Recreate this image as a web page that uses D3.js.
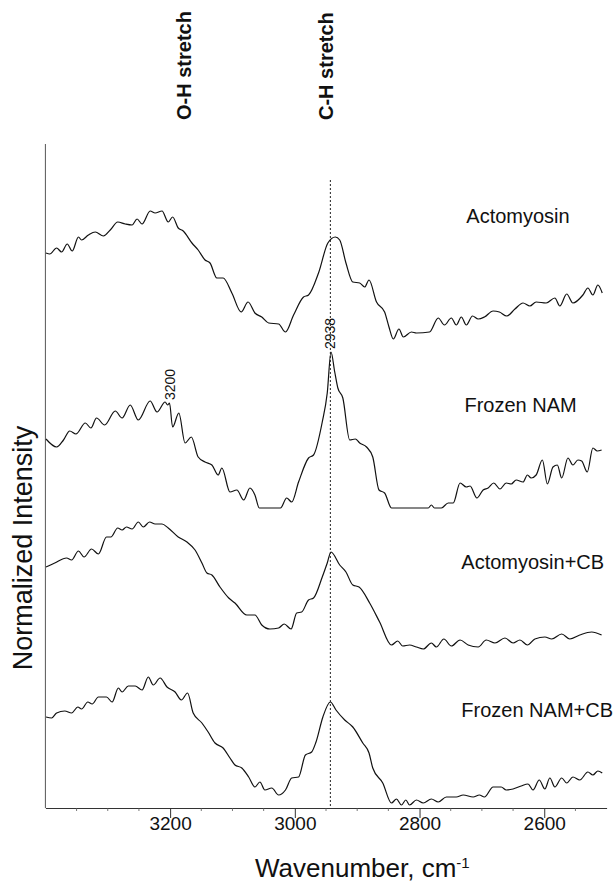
<!DOCTYPE html>
<html>
<head>
<meta charset="utf-8">
<script src="https://cdn.jsdelivr.net/npm/d3@7"></script>
<style>
  html, body { margin: 0; padding: 0; background: #fff; }
  svg { display: block; font-family: "Liberation Sans", Arial, sans-serif; }
</style>
</head>
<body>
<figure id="chart" style="margin:0"></figure>
<script>
// spectra: [wavenumber cm-1, normalized intensity (stacked, arbitrary units)]
const seriesNames = ["Actomyosin", "Frozen NAM", "Actomyosin+CB", "Frozen NAM+CB"];

const actomyosin = [
  [3399, 55.5], [3393, 55.4], [3382, 56.0], [3374, 55.6], [3365, 56.4], [3357, 55.7], [3347, 57.1],
  [3342, 56.8], [3331, 57.3], [3320, 57.6], [3307, 57.2], [3296, 57.8], [3284, 58.6], [3272, 58.4],
  [3261, 58.3], [3253, 58.9], [3245, 58.4], [3232, 59.7], [3224, 59.5], [3213, 59.7], [3203, 58.6],
  [3196, 59.1], [3187, 58.0], [3179, 57.7], [3165, 56.5], [3155, 55.8], [3144, 54.8], [3136, 54.5],
  [3125, 53.0], [3115, 53.0], [3101, 51.5], [3086, 49.6], [3075, 50.6], [3064, 49.5], [3053, 49.1],
  [3042, 48.5], [3026, 48.4], [3015, 47.6], [3002, 49.3], [2986, 51.1], [2978, 51.3], [2962, 53.5],
  [2947, 56.5], [2935, 57.1], [2928, 56.8], [2918, 54.5], [2907, 52.6], [2896, 52.5], [2888, 52.1],
  [2881, 52.8], [2869, 50.6], [2856, 49.6], [2849, 48.1], [2842, 46.9], [2833, 47.9], [2826, 47.1],
  [2813, 47.6], [2805, 47.5], [2784, 47.6], [2770, 49.0], [2760, 48.3], [2749, 49.0], [2741, 48.3],
  [2733, 49.1], [2725, 48.3], [2715, 49.2], [2706, 48.9], [2696, 49.1], [2682, 49.7], [2672, 49.6],
  [2660, 49.2], [2647, 49.9], [2634, 50.5], [2623, 50.2], [2613, 50.6], [2597, 50.5], [2583, 51.0],
  [2575, 50.2], [2564, 51.4], [2554, 50.5], [2538, 51.3], [2530, 52.0], [2522, 51.3], [2514, 52.3],
  [2507, 51.5]
];

const frozenNam = [
  [3399, 36.9], [3382, 36.1], [3371, 36.8], [3361, 37.7], [3351, 37.4], [3336, 38.5], [3327, 38.0],
  [3318, 39.0], [3305, 38.3], [3288, 39.7], [3277, 39.0], [3264, 40.3], [3251, 38.8], [3232, 40.7],
  [3221, 39.6], [3208, 40.6], [3204, 40.3], [3201, 40.5], [3196, 38.1], [3186, 39.5], [3176, 36.5],
  [3166, 37.1], [3155, 35.1], [3144, 34.6], [3133, 34.3], [3123, 33.3], [3117, 34.0], [3104, 31.6],
  [3093, 31.8], [3082, 30.8], [3072, 32.0], [3064, 31.3], [3057, 30.0], [3023, 30.0], [3013, 31.0],
  [3005, 30.6], [2994, 32.6], [2978, 35.0], [2970, 35.3], [2956, 38.6], [2948, 41.5], [2942, 45.6],
  [2936, 43.6], [2931, 42.0], [2923, 41.0], [2912, 36.8], [2903, 36.9], [2896, 36.5], [2885, 36.1],
  [2875, 35.1], [2865, 31.8], [2856, 31.5], [2845, 30.0], [2786, 30.0], [2781, 30.3], [2776, 30.0],
  [2765, 30.0], [2754, 30.5], [2746, 30.5], [2735, 32.5], [2725, 32.1], [2719, 32.2], [2708, 31.0],
  [2698, 31.8], [2690, 32.0], [2681, 32.5], [2671, 31.9], [2661, 32.5], [2653, 32.4], [2645, 32.8],
  [2634, 32.6], [2627, 33.3], [2621, 33.0], [2613, 33.3], [2603, 34.8], [2595, 32.4], [2586, 34.1],
  [2579, 34.3], [2572, 33.0], [2562, 35.0], [2554, 34.3], [2546, 34.8], [2540, 34.7], [2531, 33.6],
  [2522, 36.0], [2515, 35.7], [2508, 35.8]
];

const actomyosinCb = [
  [3399, 24.1], [3385, 24.5], [3366, 25.0], [3358, 24.8], [3347, 25.7], [3338, 25.1], [3326, 25.9],
  [3315, 25.4], [3302, 27.1], [3295, 27.1], [3284, 28.0], [3277, 27.8], [3270, 28.1], [3261, 27.9],
  [3251, 28.6], [3243, 28.1], [3233, 28.6], [3224, 28.4], [3213, 28.4], [3203, 28.0], [3187, 27.1],
  [3173, 26.6], [3160, 25.8], [3149, 24.5], [3141, 23.5], [3133, 23.3], [3120, 22.1], [3106, 21.0],
  [3096, 20.5], [3077, 19.3], [3064, 19.3], [3053, 18.3], [3040, 17.9], [3026, 18.0], [3017, 18.4],
  [3006, 17.9], [2997, 19.5], [2989, 19.6], [2978, 20.8], [2970, 21.0], [2956, 23.1], [2948, 24.5],
  [2942, 25.6], [2928, 24.3], [2918, 23.6], [2907, 22.3], [2897, 22.1], [2880, 20.5], [2864, 18.6],
  [2845, 16.3], [2835, 16.7], [2827, 16.2], [2816, 16.3], [2805, 16.1], [2794, 15.9], [2781, 16.5],
  [2773, 16.1], [2761, 16.9], [2749, 16.2], [2735, 16.8], [2722, 16.3], [2706, 16.1], [2693, 16.8],
  [2679, 16.5], [2663, 17.0], [2650, 16.5], [2639, 16.8], [2627, 16.3], [2615, 16.9], [2599, 17.1],
  [2588, 16.9], [2572, 17.4], [2559, 16.9], [2543, 17.3], [2524, 17.6], [2508, 17.3]
];

const frozenNamCb = [
  [3399, 9.1], [3390, 9.0], [3382, 9.5], [3369, 9.7], [3358, 9.5], [3348, 10.1], [3342, 9.9],
  [3332, 10.6], [3325, 10.4], [3315, 11.1], [3302, 11.1], [3293, 10.6], [3283, 12.0], [3277, 11.6],
  [3267, 12.2], [3256, 12.2], [3245, 11.8], [3235, 13.1], [3227, 12.3], [3216, 13.0], [3205, 12.1],
  [3192, 11.6], [3182, 10.8], [3172, 11.5], [3163, 9.5], [3149, 8.5], [3139, 7.6], [3128, 6.5],
  [3115, 6.0], [3104, 5.0], [3096, 4.3], [3085, 4.0], [3074, 3.1], [3064, 2.1], [3056, 2.6],
  [3048, 1.8], [3037, 2.0], [3026, 1.3], [3015, 1.8], [3005, 3.0], [2994, 3.1], [2983, 5.3],
  [2973, 5.6], [2966, 6.6], [2955, 9.1], [2943, 10.6], [2934, 9.8], [2920, 8.8], [2907, 8.1],
  [2891, 6.5], [2881, 5.5], [2875, 4.0], [2859, 2.5], [2845, 0.5], [2837, 0.9], [2829, 0.3],
  [2822, 0.8], [2816, 0.3], [2805, 0.8], [2794, 0.5], [2781, 0.9], [2770, 0.6], [2757, 1.1],
  [2741, 1.1], [2730, 1.3], [2714, 1.1], [2704, 1.3], [2696, 1.1], [2682, 2.1], [2669, 2.1],
  [2661, 1.8], [2650, 1.9], [2637, 2.2], [2626, 2.4], [2618, 1.8], [2608, 2.8], [2599, 1.9],
  [2591, 3.0], [2583, 2.1], [2572, 3.0], [2564, 2.5], [2554, 3.1], [2543, 2.8], [2530, 3.6],
  [2522, 3.3], [2514, 3.7], [2507, 3.5]
];

const allSeries = [actomyosin, frozenNam, actomyosinCb, frozenNamCb];

const xTicks = [3200, 3000, 2800, 2600];
const bandNames = ["O-H stretch", "C-H stretch"];
const bandCenters = [3177, 2950];

// the 2938 reference line sits a few units off its label in the original figure
const chLine = 2943;
const peakLabels = ["3200", "2938"];
const peakPositions = [3200, chLine];

// ---- layout ----
const width = 616;
const height = 884;
const margin = { top: 144, right: 9.4, bottom: 76, left: 45.4 };

const x = d3.scaleLinear()
  .domain([3400, 2500])
  .range([margin.left, width - margin.right]);

const y = d3.scaleLinear()
  .domain([0, 66.4])
  .range([height - margin.bottom, margin.top]);

const svg = d3.select("figure#chart")
  .append("svg")
  .attr("width", width)
  .attr("height", height);

svg.append("rect")
  .attr("width", width)
  .attr("height", height)
  .attr("fill", "#fff");

// axes
const xAxis = d3.axisBottom(x)
  .tickValues(xTicks)
  .tickSize(10)
  .tickSizeOuter(0)
  .tickFormat(d3.format("d"));

const gx = svg.append("g")
  .attr("transform", `translate(0,${y(0)})`)
  .call(xAxis);
gx.select(".domain").attr("stroke", "#333");
gx.selectAll(".tick line").attr("stroke", "#333");
gx.selectAll(".tick text")
  .attr("font-family", "Liberation Sans, Arial, sans-serif")
  .attr("font-size", 19)
  .attr("fill", "#111")
  .attr("dy", "0.45em")
  .attr("y", 13);

// minor ticks on x
svg.append("g")
  .selectAll("line")
  .data(d3.range(3350, 2500, -50).filter(v => !xTicks.includes(v)))
  .join("line")
  .attr("x1", d => x(d)).attr("x2", d => x(d))
  .attr("y1", y(0)).attr("y2", y(0) + 3)
  .attr("stroke", "#555")
  .attr("stroke-width", 0.8);

svg.append("line")
  .attr("x1", x(3400)).attr("x2", x(3400))
  .attr("y1", margin.top).attr("y2", y(0))
  .attr("stroke", "#555")
  .attr("stroke-width", 1);

// dotted C-H reference line
svg.append("line")
  .attr("x1", x(chLine)).attr("x2", x(chLine))
  .attr("y1", y(62.8)).attr("y2", y(0))
  .attr("stroke", "#222")
  .attr("stroke-width", 1)
  .attr("stroke-dasharray", "2,2");

// spectra
const line = d3.line()
  .x(d => x(d[0]))
  .y(d => y(d[1]))
  .curve(d3.curveMonotoneX);

svg.append("g")
  .selectAll("path")
  .data(allSeries)
  .join("path")
  .attr("d", line)
  .attr("fill", "none")
  .attr("stroke", "#111")
  .attr("stroke-width", 1.2)
  .attr("stroke-linejoin", "round");

// series names
const namePos = [[2725, 58.5], [2728, 39.6], [2733, 23.9], [2733, 9.1]];
svg.append("g")
  .selectAll("text")
  .data(seriesNames)
  .join("text")
  .attr("x", (d, i) => x(namePos[i][0]))
  .attr("y", (d, i) => y(namePos[i][1]))
  .attr("font-size", 20)
  .attr("fill", "#111")
  .text(d => d);

// peak labels on Frozen NAM, rotated
svg.append("g")
  .selectAll("text")
  .data(peakLabels)
  .join("text")
  .attr("transform", (d, i) => {
    const wn = peakPositions[i];
    const p = d3.least(frozenNam, q => Math.abs(q[0] - wn));
    return `translate(${x(wn) + 5},${y(p[1]) - 3}) rotate(-90)`;
  })
  .attr("font-size", 14)
  .attr("fill", "#111")
  .text(d => d);

// band labels at the top
svg.append("g")
  .selectAll("text")
  .data(bandNames)
  .join("text")
  .attr("transform", (d, i) => `translate(${x(bandCenters[i]) + 7},120) rotate(-90)`)
  .attr("font-size", 20)
  .attr("font-weight", "bold")
  .attr("fill", "#111")
  .text(d => d);

// axis titles
const xt = svg.append("text")
  .attr("x", 255)
  .attr("y", 877)
  .attr("font-size", 26)
  .attr("fill", "#111");
xt.append("tspan").text("Wavenumber, cm");
xt.append("tspan").attr("font-size", 15).attr("dy", -9).text("-1");

svg.append("text")
  .attr("transform", "translate(32,548) rotate(-90)")
  .attr("text-anchor", "middle")
  .attr("font-size", 27)
  .attr("fill", "#111")
  .text("Normalized Intensity");
</script>
</body>
</html>
